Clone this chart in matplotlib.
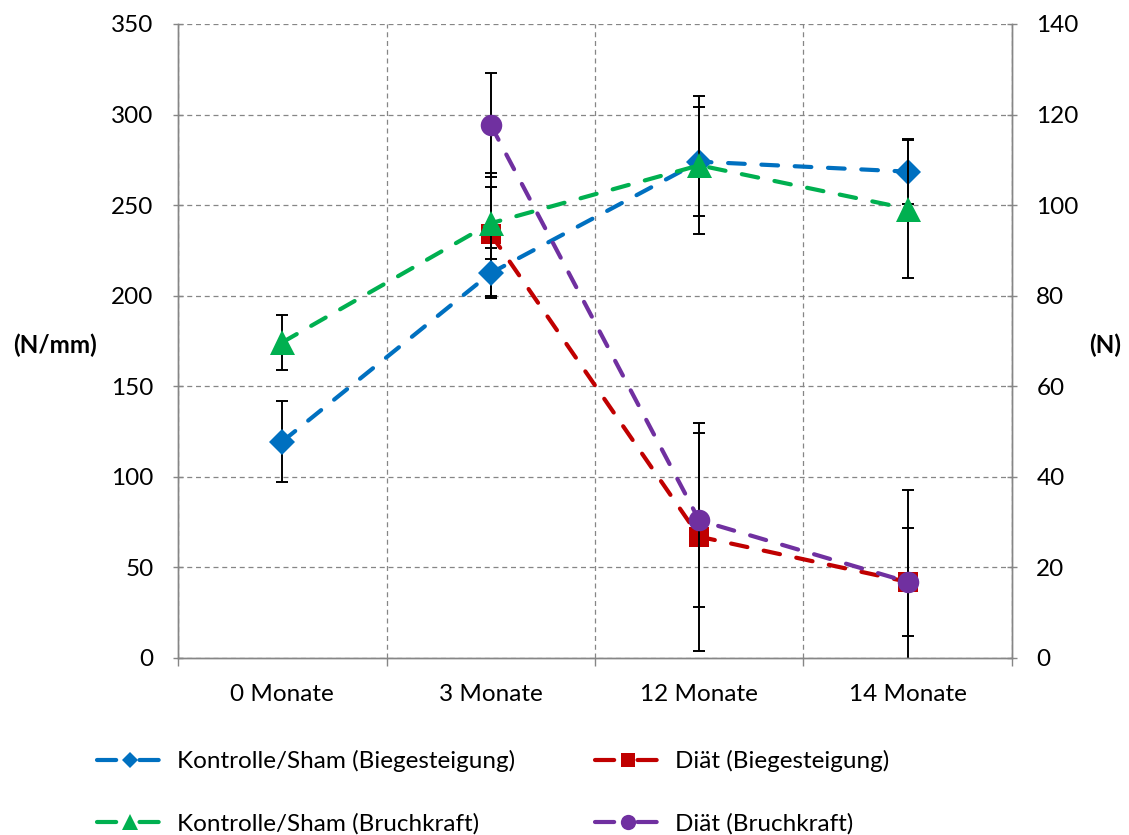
"""
Biegesteigung / Bruchkraft over time: Kontrolle/Sham vs. Diät,
left axis in N/mm, right axis in N.
"""

import matplotlib
matplotlib.use("Agg")
import matplotlib.pyplot as plt
from matplotlib.lines import Line2D

plt.rcParams["font.family"] = ["Lato", "DejaVu Sans"]

# categories
months = ["0 Monate", "3 Monate", "12 Monate", "14 Monate"]

# Biegesteigung (N/mm), left axis
kontrolle_bieg = [119.5, 212.5, 274, 268.5]
kontrolle_bieg_err = [22.3, 13.8, 30, 18]
diaet_bieg = [234, 67, 42]
diaet_bieg_err = [34, 63, 51]

# Bruchkraft (N), right axis
kontrolle_bruch = [69.7, 96, 108.8, 99.2]
kontrolle_bruch_err = [6, 8, 15.2, 15.2]
diaet_bruch = [117.7, 30.4, 16.8]
diaet_bruch_err = [11.4, 19.2, 12]

BLUE = "#0070C0"
RED = "#C00000"
GREEN = "#00B050"
PURPLE = "#7030A0"
GRAY = "#868686"
FS = 17.5

x_all = list(range(len(months)))
x_diaet = x_all[1:]

fig = plt.figure(figsize=(11.29, 8.35), dpi=100)
ax = fig.add_axes([178 / 1129, 1 - 658 / 835, (1012 - 178) / 1129, (658 - 24) / 835])
ax2 = ax.twinx()

line_kw = dict(linewidth=3.0, dashes=(4.0, 4.0), dash_capstyle="round",
               ecolor="black", elinewidth=1.4, capsize=4.5, capthick=1.4)


def series(a, x, y, err, color, marker, size):
    data_line, caps, bars = a.errorbar(x, y, yerr=err, color=color, marker=marker,
                                       markersize=size, **line_kw)
    data_line.set_markeredgewidth(0)
    for cap in caps:
        cap.set_markeredgewidth(1.4)
        cap.set_color("black")


series(ax, x_all, kontrolle_bieg, kontrolle_bieg_err, BLUE, "D", 13.5)
series(ax, x_diaet, diaet_bieg, diaet_bieg_err, RED, "s", 14.5)
series(ax2, x_all, kontrolle_bruch, kontrolle_bruch_err, GREEN, "^", 18)
series(ax2, x_diaet, diaet_bruch, diaet_bruch_err, PURPLE, "o", 15.5)

ax.set_xlim(-0.5, 3.5)
ax.set_ylim(0, 350)
ax2.set_ylim(0, 140)
ax.set_yticks(range(0, 351, 50))
ax2.set_yticks(range(0, 141, 20))
ax.set_xticks(x_all)
ax.set_xticklabels(months)
ax.set_xticks([-0.5, 0.5, 1.5, 2.5, 3.5], minor=True)

ax.grid(axis="y", color=GRAY, linestyle=(0, (4, 3)), linewidth=0.9)
ax.grid(axis="x", which="minor", color=GRAY, linestyle=(0, (4, 3)), linewidth=0.9)

for a in (ax, ax2):
    a.spines["top"].set_visible(False)
    for side in ("left", "right", "bottom"):
        a.spines[side].set_color(GRAY)
        a.spines[side].set_linewidth(1.0)
    a.tick_params(axis="y", direction="inout", length=7, width=1.0,
                  color=GRAY, labelsize=FS, pad=14)
ax.tick_params(axis="x", which="major", length=0, labelsize=FS, pad=19)
ax.tick_params(axis="x", which="minor", direction="out", length=6, width=1.0,
               color=GRAY)

fig.text(55 / 1129, 1 - 345 / 835, "(N/mm)", fontsize=FS, fontweight="bold",
         ha="center", va="center")
fig.text(1105 / 1129, 1 - 345 / 835, "(N)", fontsize=FS, fontweight="bold",
         ha="center", va="center")


# legend, two columns placed separately
def handle(color, marker, size):
    return Line2D([], [], color=color, linewidth=3.0, dashes=(4.6, 5.6),
                  dash_capstyle="round", marker=marker, markersize=size,
                  markeredgewidth=0)


leg_kw = dict(frameon=False, fontsize=FS, loc="upper left", borderaxespad=0,
              borderpad=0, handlelength=2.7, handletextpad=0.6,
              labelspacing=1.68, markerscale=1.0)

fig.legend(
    [handle(BLUE, "D", 8.5), handle(GREEN, "^", 12)],
    ["Kontrolle/Sham (Biegesteigung)", "Kontrolle/Sham (Bruchkraft)"],
    bbox_to_anchor=(97 / 1129, 1 - 750 / 835), **leg_kw)
fig.legend(
    [handle(RED, "s", 10), handle(PURPLE, "o", 11)],
    ["Diät (Biegesteigung)", "Diät (Bruchkraft)"],
    bbox_to_anchor=(595 / 1129, 1 - 750 / 835), **leg_kw)

fig.savefig("out.png", dpi=100)
plt.close(fig)
